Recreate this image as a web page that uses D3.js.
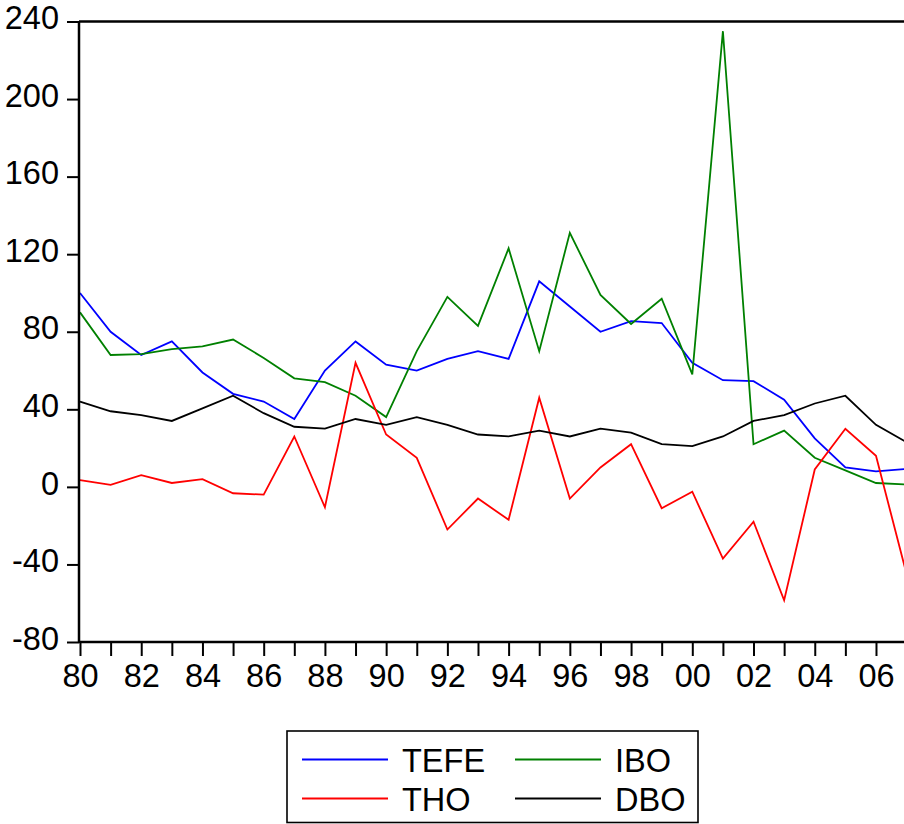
<!DOCTYPE html>
<html>
<head>
<meta charset="utf-8">
<script src="https://cdn.jsdelivr.net/npm/d3@7"></script>
<style>
  html, body { margin: 0; padding: 0; background: #fff; }
  svg { display: block; }
  text { font-family: "Liberation Sans", Arial, sans-serif; fill: #000; }
</style>
</head>
<body>
<svg id="chart" width="904" height="824"></svg>
<script>
const years = [1980,1981,1982,1983,1984,1985,1986,1987,1988,1989,1990,1991,1992,1993,
               1994,1995,1996,1997,1998,1999,2000,2001,2002,2003,2004,2005,2006,2007];
const TEFE = [100, 80, 68, 75, 59, 48, 44, 35, 60, 75, 63, 60, 66, 70,
              66, 106, 93, 80, 85.5, 84.5, 64, 55, 54.5, 45, 25, 10, 8, 9.3];
const IBO  = [90, 68, 68.5, 71, 72.5, 76, 66.5, 56, 54, 47, 36, 70, 98, 83,
              123, 70, 131, 99, 84, 97, 58, 235, 22, 29, 15, 8.5, 2, 1.2];
const THO  = [3.5, 1, 6, 2, 4, -3.3, -4, 26, -10.5, 64, 27, 15, -22, -6,
              -17, 46, -6, 10, 22, -11, -2.5, -37, -18, -58.5, 9, 30, 16, -45];
const DBO  = [44, 39, 37, 34, 40.5, 47, 38, 31, 30, 35, 32, 36, 32, 27,
              26, 29, 26, 30, 28, 22, 21, 26, 34, 37, 43, 47, 32, 23];
const yTicks = [-80, -40, 0, 40, 80, 120, 160, 200, 240];
const xLabelYears = [1980,1982,1984,1986,1988,1990,1992,1994,1996,1998,2000,2002,2004,2006];

const series = [
  {name: "TEFE", values: TEFE, color: "#0000ff"},
  {name: "IBO",  values: IBO,  color: "#008000"},
  {name: "THO",  values: THO,  color: "#ff0000"},
  {name: "DBO",  values: DBO,  color: "#000000"}
];

const svg = d3.select("#chart");
const pLeft = 79, pTop = 21.5, pBottom = 642, pRight = 906.6;

const x = d3.scaleLinear().domain([1980, 2007]).range([80, pRight]);
const y = d3.scaleLinear().domain([-80, 240]).range([pBottom, pTop]);

// lines
const line = d3.line().x((d, i) => x(years[i])).y(d => y(d));
svg.append("g").selectAll("path").data(series).join("path")
  .attr("fill", "none")
  .attr("stroke", d => d.color)
  .attr("stroke-width", 1.8)
  .attr("stroke-linejoin", "miter")
  .attr("d", d => line(d.values));

// top border
svg.append("line")
  .attr("x1", pLeft).attr("x2", 914)
  .attr("y1", pTop).attr("y2", pTop)
  .attr("stroke", "#000").attr("stroke-width", 2.5);

// y axis
const yAxis = d3.axisLeft(y).tickValues(yTicks).tickSize(12).tickPadding(8)
  .tickFormat(d => String(d));
const gy = svg.append("g").attr("transform", `translate(${pLeft},0)`).call(yAxis);
gy.attr("font-family", null).attr("font-size", null);
gy.select(".domain").attr("stroke-width", 2.5).attr("d", `M0,${pTop}V${pBottom}`);
gy.selectAll(".tick line").attr("stroke-width", 2);
gy.selectAll(".tick text")
  .style("font-size", "32.5px")
  .attr("dy", "0.22em");

// x axis
const xAxis = d3.axisBottom(x).tickValues(years).tickSize(14).tickPadding(8)
  .tickFormat(d => xLabelYears.includes(d) ? String(d % 100).padStart(2, "0") : "");
const gx = svg.append("g").attr("transform", `translate(0,${pBottom})`).call(xAxis);
gx.attr("font-family", null).attr("font-size", null);
gx.select(".domain").attr("stroke-width", 2.5).attr("d", `M${pLeft},0H${pRight + 10}`);
gx.selectAll(".tick line").attr("stroke-width", 2);
gx.selectAll(".tick text")
  .style("font-size", "32.5px")
  .attr("dy", "0.72em");

// legend
const lg = svg.append("g");
lg.append("rect")
  .attr("x", 287).attr("y", 731).attr("width", 411).attr("height", 91.5)
  .attr("fill", "#fff").attr("stroke", "#000").attr("stroke-width", 1.6);
const legendPos = [
  {lx: 302, tx: 402, ly: 759.5, ty: 772},
  {lx: 515, tx: 615, ly: 759.5, ty: 772},
  {lx: 302, tx: 402, ly: 798.5, ty: 811},
  {lx: 515, tx: 615, ly: 798.5, ty: 811}
];
series.forEach((s, i) => {
  const p = legendPos[i];
  lg.append("line")
    .attr("x1", p.lx).attr("x2", p.lx + 86)
    .attr("y1", p.ly).attr("y2", p.ly)
    .attr("stroke", s.color).attr("stroke-width", 2);
  lg.append("text")
    .attr("x", p.tx).attr("y", p.ty)
    .style("font-size", "32.5px")
    .text(s.name);
});
</script>
</body>
</html>
